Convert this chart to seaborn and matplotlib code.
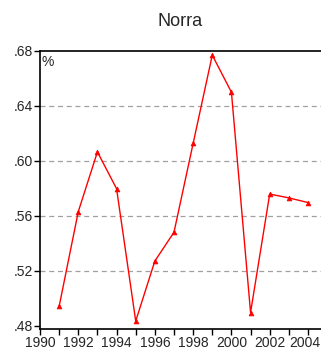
import matplotlib
matplotlib.use("Agg")
import matplotlib.pyplot as plt
import matplotlib.transforms as mtransforms
import seaborn as sns
import pandas as pd

years = [1991, 1992, 1993, 1994, 1995, 1996, 1997, 1998, 1999, 2000, 2001, 2002, 2003, 2004]
values = [0.494, 0.563, 0.6065, 0.5797, 0.4833, 0.527, 0.548, 0.6127, 0.677, 0.650, 0.4895, 0.5758, 0.573, 0.5696]
yticks = [0.48, 0.52, 0.56, 0.60, 0.64, 0.68]
ytick_labels = [".48", ".52", ".56", ".60", ".64", ".68"]
xticks_major = [1990, 1992, 1994, 1996, 1998, 2000, 2002, 2004]

df = pd.DataFrame({"year": years, "value": values})

sns.set_style("ticks")
plt.rcParams['font.family'] = ['Liberation Sans', 'DejaVu Sans']

fig = plt.figure(figsize=(3.21, 3.54), dpi=100)
ax = fig.add_axes([40/321, 25/354, 1 - 40/321, (329-51)/354])

sns.lineplot(data=df, x="year", y="value", ax=ax, color="#ff0000", linewidth=1.0,
             marker="^", markersize=3.5, markeredgewidth=0.5, markeredgecolor="#ff0000")

ax.set_xlim(1990, 2004.68)
ax.set_ylim(0.4775, 0.68)
ax.set_yticks(yticks)
ax.set_yticklabels(ytick_labels)
ax.set_xticks(xticks_major)
ax.set_xticks(list(range(1990, 2005)), minor=True)
for yv in [0.52, 0.56, 0.60, 0.64]:
    ax.axhline(yv, color="#a0a0a0", linestyle=(0, (4, 3)), linewidth=0.9, zorder=0)

ax.set_xlabel("")
ax.set_ylabel("")
ax.tick_params(axis="both", which="major", length=4, width=1, labelsize=10, pad=1, direction="out", color="black")
ax.tick_params(axis="x", which="minor", length=4, width=1, direction="out", color="black")
for s in ["left", "bottom", "top"]:
    ax.spines[s].set_visible(True)
    ax.spines[s].set_linewidth(1.2)
    ax.spines[s].set_color("black")
ax.spines["right"].set_visible(False)

# nudge the last x label so it stays inside the figure
last = ax.get_xticklabels()[-1]
last.set_transform(last.get_transform() + mtransforms.ScaledTranslation(-3/100, 0, fig.dpi_scale_trans))

ax.text(0.005, 0.985, "%", transform=ax.transAxes, ha="left", va="top", fontsize=10)
fig.text(0.5 + 20/321, 1 - 22/354, "Norra", ha="center", va="center", fontsize=13)

fig.savefig("out.png", dpi=100)
